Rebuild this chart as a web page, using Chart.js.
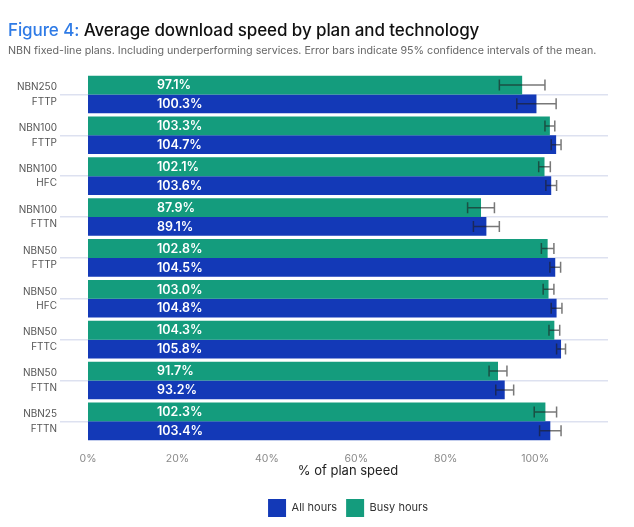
<!DOCTYPE html>
<html>
<head>
<meta charset="utf-8">
<script src="https://cdn.jsdelivr.net/npm/chart.js@4.4.1/dist/chart.umd.min.js"></script>
<style>
  html, body { margin: 0; padding: 0; background: #fff; }
  #wrap { position: relative; width: 634px; height: 527px; }
  #chart { position: absolute; left: 0; top: 0; }
  .head { position: absolute; left: 8px; top: 0; font-family: Inter, "Noto Sans", sans-serif; }
  .title { position: absolute; top: 20px; left: 0; white-space: nowrap; font-size: 17px; font-weight: 500; color: #111; letter-spacing: -0.1px; }
  .title span { color: #2f7be6; }
  .sub { position: absolute; top: 44px; left: 0; white-space: nowrap; font-size: 10.7px; color: #666; }
</style>
</head>
<body>
<div id="wrap">
  <canvas id="chart" width="634" height="527"></canvas>
  <div class="head">
    <div class="title"><span>Figure 4:</span> Average download speed by plan and technology</div>
    <div class="sub">NBN fixed-line plans. Including underperforming services. Error bars indicate 95% confidence intervals of the mean.</div>
  </div>
</div>
<script>
/* ---- datos ---- */
const plans = [
  ['NBN250', 'FTTP'], ['NBN100', 'FTTP'], ['NBN100', 'HFC'], ['NBN100', 'FTTN'],
  ['NBN50', 'FTTP'], ['NBN50', 'HFC'], ['NBN50', 'FTTC'], ['NBN50', 'FTTN'], ['NBN25', 'FTTN']
];
const busyHours = [97.1, 103.3, 102.1, 87.9, 102.8, 103.0, 104.3, 91.7, 102.3];
const allHours  = [100.3, 104.7, 103.6, 89.1, 104.5, 104.8, 105.8, 93.2, 103.4];
// half width of the 95% CI
const busyErr = [5.1, 1.1, 1.3, 3.0, 1.4, 1.2, 1.2, 2.0, 2.5];
const allErr  = [4.4, 1.1, 1.2, 2.9, 1.2, 1.2, 1.0, 2.0, 2.4];
const xTicks = [0, 20, 40, 60, 80, 100];

const GREEN = '#149c7d';
const BLUE = '#1339b7';
const FONT = 'Inter, "Noto Sans", sans-serif';

/* ---- plugin: etiquetas y barras de error ---- */
const extras = {
  id: 'extras',
  afterDatasetsDraw(chart) {
    const ctx = chart.ctx;
    const xs = chart.scales.x;
    const x0 = xs.getPixelForValue(0);
    chart.data.datasets.forEach((ds, i) => {
      const meta = chart.getDatasetMeta(i);
      meta.data.forEach((bar, j) => {
        const xl = xs.getPixelForValue(ds.data[j] - ds.err[j]);
        const xh = xs.getPixelForValue(ds.data[j] + ds.err[j]);
        const y = bar.y;
        const cap = 5.5;
        ctx.save();
        ctx.strokeStyle = 'rgba(30,30,30,0.6)';
        ctx.lineWidth = 1.5;
        ctx.beginPath();
        ctx.moveTo(xl, y); ctx.lineTo(xh, y);
        ctx.moveTo(xl, y - cap); ctx.lineTo(xl, y + cap);
        ctx.moveTo(xh, y - cap); ctx.lineTo(xh, y + cap);
        ctx.stroke();
        // etiqueta de valor
        ctx.fillStyle = '#fff';
        ctx.font = '600 12.5px ' + FONT;
        ctx.textAlign = 'left';
        ctx.textBaseline = 'middle';
        ctx.fillText(ds.data[j].toFixed(1) + '%', x0 + 69, y + 0.5);
        ctx.restore();
      });
    });
  }
};

new Chart(document.getElementById('chart'), {
  type: 'bar',
  data: {
    labels: plans,
    datasets: [
      { label: 'Busy hours', data: busyHours, err: busyErr, backgroundColor: GREEN },
      { label: 'All hours', data: allHours, err: allErr, backgroundColor: BLUE }
    ]
  },
  options: {
    indexAxis: 'y',
    responsive: false,
    animation: false,
    categoryPercentage: 0.92,
    barPercentage: 1.0,
    layout: { padding: { top: 74, right: 26, bottom: 0, left: 0 } },
    scales: {
      x: {
        min: 0,
        max: 116.3,
        afterBuildTicks: s => { s.ticks = xTicks.map(v => ({ value: v })); },
        grid: { display: false },
        border: { display: false },
        ticks: {
          padding: 3,
          color: '#8a8a8a',
          font: { family: FONT, size: 10.5 },
          callback: v => v + '%'
        },
        title: {
          display: true,
          text: '% of plan speed',
          color: '#222',
          padding: { top: -5, bottom: 11 },
          font: { family: FONT, size: 13 }
        }
      },
      y: {
        afterFit: s => { s.width = 88; },
        border: { display: false },
        grid: { offset: false, color: '#dde1f0', lineWidth: 1.5, tickLength: 28 },
        ticks: {
          padding: 3,
          color: '#555',
          font: { family: FONT, size: 10, lineHeight: 1.45 }
        }
      }
    },
    plugins: {
      legend: {
        position: 'bottom',
        fullSize: false,
        reverse: true,
        labels: {
          boxWidth: 18,
          boxHeight: 18,
          padding: 9,
          color: '#333',
          font: { family: FONT, size: 11 }
        }
      },
      tooltip: { enabled: false }
    }
  },
  plugins: [extras]
});
</script>
</body>
</html>
